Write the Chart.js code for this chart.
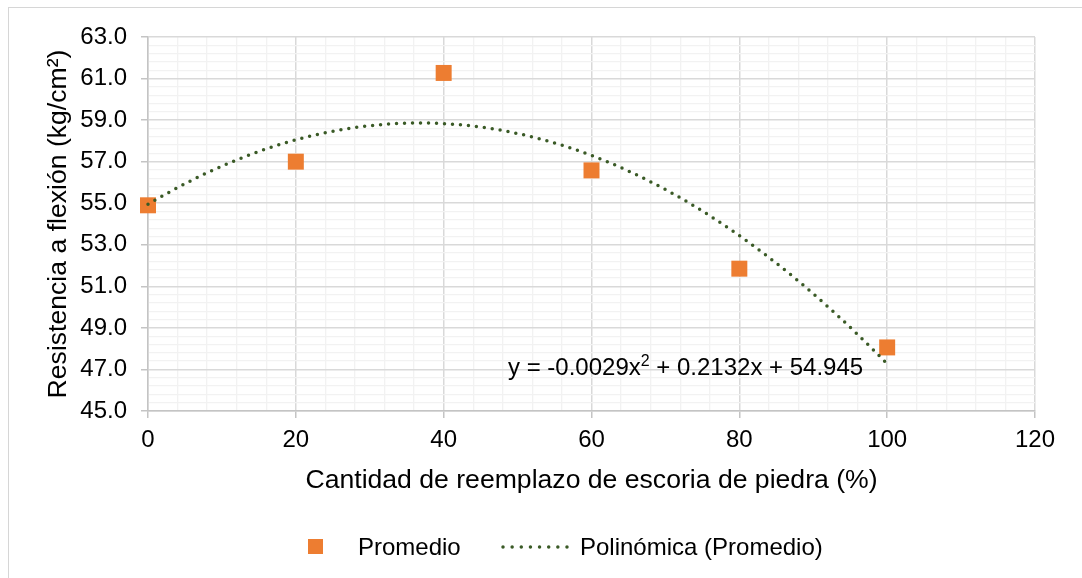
<!DOCTYPE html>
<html>
<head>
<meta charset="utf-8">
<script src="https://cdn.jsdelivr.net/npm/chart.js@4.4.1/dist/chart.umd.min.js"></script>
<style>
    body { margin: 0; background: #fff; font-family: "Liberation Sans", Arial, sans-serif; }
    #wrap { position: relative; width: 1082px; height: 578px; overflow: hidden; }
    #frame { position: absolute; left: 8px; top: 7px; width: 1100px; height: 620px; border: 1px solid #d6d6d6; }
    #chart { position: absolute; left: 0; top: 0; }
    .leg { position: absolute; font-size: 24px; line-height: 28px; color: #000; white-space: nowrap; }
</style>
</head>
<body>
<div id="wrap">
    <div id="frame"></div>
    <canvas id="chart" width="1082" height="578"></canvas>
    <div style="position:absolute; left:308px; top:539px; width:15px; height:15px; background:#ED7D31;"></div>
    <div class="leg" style="left:358px; top:533px;">Promedio</div>
    <svg style="position:absolute; left:500px; top:540px;" width="72" height="14">
        <line x1="3" y1="7" x2="67.1" y2="7" stroke="#3a5a26" stroke-width="3.5" stroke-linecap="round" stroke-dasharray="0 9.14"></line>
    </svg>
    <div class="leg" style="left:580px; top:533px;">Polinómica (Promedio)</div>
</div>
<script>
// Values
const xValues = [0, 20, 40, 60, 80, 100];
const promedio = [54.9, 57.0, 61.27, 56.58, 51.85, 48.06];
// Trendline from the equation printed on the chart: c0 + c1*x + c2*x^2
const trendCoef = [54.945, 0.2132, -0.0029];
const trendRange = [0, 100];

// Axis settings
const xMin = 0, xMax = 120, xMajor = 20, xMinor = 4;
const yMin = 45, yMax = 63, yMajor = 2, yMinor = 0.4;

const isMajor = (v, origin, step) => {
    const k = (v - origin) / step;
    return Math.abs(k - Math.round(k)) < 1e-6;
};

const pointsData = xValues.map((x, i) => ({ x: x, y: promedio[i] }));
const trendData = [];
for (let x = trendRange[0]; x <= trendRange[1]; x += 0.5) {
    trendData.push({ x: x, y: trendCoef[0] + trendCoef[1] * x + trendCoef[2] * x * x });
}

const FONT = "'Liberation Sans', Arial, sans-serif";

// Trendline equation label
const equationLabel = {
    id: 'equationLabel',
    afterDatasetsDraw(chart) {
        const { ctx, chartArea } = chart;
        let x = chartArea.left + 360;
        const y = chartArea.top + 338;
        ctx.save();
        ctx.fillStyle = '#000';
        ctx.textBaseline = 'alphabetic';
        ctx.textAlign = 'left';
        ctx.font = '24px ' + FONT;
        const a = 'y = -0.0029x';
        ctx.fillText(a, x, y);
        x += ctx.measureText(a).width;
        ctx.font = '16px ' + FONT;
        ctx.fillText('2', x, y - 9);
        x += ctx.measureText('2').width;
        ctx.font = '24px ' + FONT;
        ctx.fillText(' + 0.2132x + 54.945', x, y);
        ctx.restore();
    }
};

const ctx = document.getElementById('chart').getContext('2d');
const chart = new Chart(ctx, {
    type: 'scatter',
    data: {
        datasets: [{
            label: 'Polinómica (Promedio)',
            data: trendData,
            showLine: true,
            borderColor: '#3a5a26',
            borderWidth: 3.5,
            borderDash: [0, 8],
            borderCapStyle: 'round',
            pointRadius: 0,
            fill: false,
            clip: false
        }, {
            label: 'Promedio',
            data: pointsData,
            pointStyle: 'rect',
            pointRadius: 11.3,
            pointBackgroundColor: '#ED7D31',
            pointBorderWidth: 0,
            pointHoverRadius: 11.3,
            clip: false
        }]
    },
    options: {
        responsive: false,
        animation: false,
        events: [],
        layout: { padding: { top: 37, right: 47, left: 0, bottom: 73 } },
        plugins: { legend: { display: false }, tooltip: { enabled: false } },
        scales: {
            x: {
                type: 'linear',
                min: xMin,
                max: xMax,
                afterFit: (scale) => { scale.height = 94; },
                ticks: {
                    stepSize: xMinor,
                    autoSkip: false,
                    maxTicksLimit: 200,
                    maxRotation: 0,
                    padding: 8,
                    color: '#000',
                    font: { family: FONT, size: 24 },
                    callback: (v) => isMajor(v, xMin, xMajor) ? String(v) : ''
                },
                grid: {
                    color: (c) => isMajor(c.tick.value, xMin, xMajor) ? '#d9d9d9' : '#f2f2f2',
                    lineWidth: (c) => isMajor(c.tick.value, xMin, xMajor) ? 1.5 : 1.3,
                    tickLength: 7,
                    tickColor: (c) => isMajor(c.tick.value, xMin, xMajor) ? '#c4c4c4' : 'rgba(0,0,0,0)',
                    tickWidth: 1.5
                },
                border: { color: '#c4c4c4', width: 1.5 },
                title: {
                    display: true,
                    text: 'Cantidad de reemplazo de escoria de piedra (%)',
                    color: '#000',
                    font: { family: FONT, size: 26.6 },
                    padding: { top: 0, bottom: 8.5 }
                }
            },
            y: {
                type: 'linear',
                min: yMin,
                max: yMax,
                afterFit: (scale) => { scale.width = 148; },
                ticks: {
                    stepSize: yMinor,
                    autoSkip: false,
                    maxTicksLimit: 200,
                    padding: 14,
                    color: '#000',
                    font: { family: FONT, size: 24 },
                    callback: (v) => isMajor(v, yMin, yMajor) ? v.toFixed(1) : ''
                },
                grid: {
                    color: (c) => isMajor(c.tick.value, yMin, yMajor) ? '#d9d9d9' : '#f2f2f2',
                    lineWidth: (c) => isMajor(c.tick.value, yMin, yMajor) ? 1.5 : 1.3,
                    tickLength: 7,
                    tickColor: (c) => isMajor(c.tick.value, yMin, yMajor) ? '#c4c4c4' : 'rgba(0,0,0,0)',
                    tickWidth: 1.5
                },
                border: { color: '#c4c4c4', width: 1.5 },
                title: {
                    display: true,
                    text: 'Resistencia a flexión (kg/cm²)',
                    color: '#000',
                    font: { family: FONT, size: 26.6 },
                    padding: { top: 43, bottom: 0 }
                }
            }
        }
    },
    plugins: [equationLabel]
});
</script>
</body>
</html>
